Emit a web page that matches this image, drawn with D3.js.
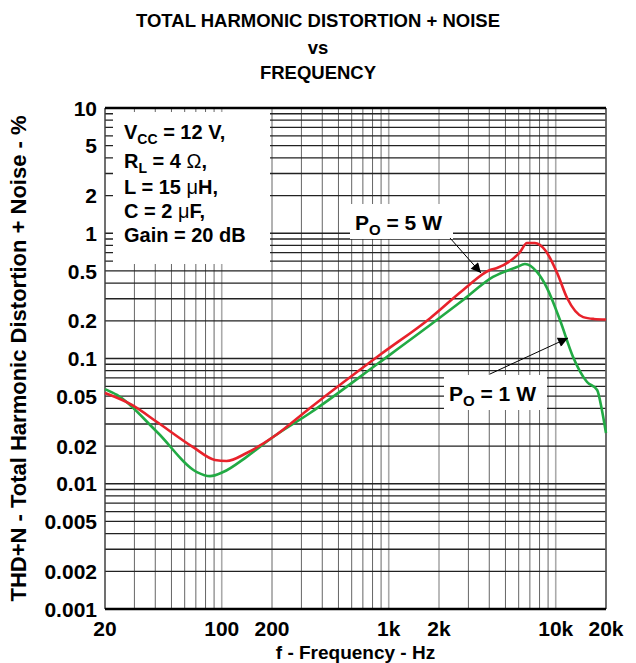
<!DOCTYPE html>
<html lang="en">
  <head>
    <meta charset="utf-8" />
    <title>THD+N vs Frequency</title>
    <style>
      body { margin: 0; background: #fff; }
      text { font-family: "Liberation Sans", Arial, sans-serif; font-weight: bold; }
    </style>
  </head>
  <body>
    <script src="https://d3js.org/d3.v7.min.js"></script>
    <div id="chart"></div>
    <script>
      // data (Hz, %)
      const freq5W = [20, 29, 41, 67, 91, 107, 141, 203, 338, 887, 1770, 2790, 4040, 4450, 6110, 6730, 7500, 8630, 10200, 11700, 14600, 16900, 20000];
      const thd5W = [0.053, 0.0426, 0.0311, 0.0197, 0.0155, 0.0152, 0.0176, 0.0236, 0.0403, 0.107, 0.21, 0.352, 0.509, 0.528, 0.708, 0.836, 0.836, 0.735, 0.482, 0.304, 0.214, 0.207, 0.205];

      const freq1W = [20, 23.6, 41, 71, 85, 102, 141, 203, 338, 887, 1770, 2790, 4210, 5860, 6540, 7720, 8870, 10600, 12700, 15400, 17700, 18900, 20000];
      const thd1W = [0.057, 0.0512, 0.0259, 0.0124, 0.0115, 0.0124, 0.0164, 0.0236, 0.0367, 0.0938, 0.185, 0.293, 0.448, 0.538, 0.568, 0.491, 0.365, 0.203, 0.103, 0.0649, 0.0561, 0.0388, 0.0254];

      const xTicks = [20, 100, 200, 1000, 2000, 10000, 20000];
      const xTickLabels = ["20", "100", "200", "1k", "2k", "10k", "20k"];
      const yTicks = [10, 5, 2, 1, 0.5, 0.2, 0.1, 0.05, 0.02, 0.01, 0.005, 0.002, 0.001];
      const yTickLabels = ["10", "5", "2", "1", "0.5", "0.2", "0.1", "0.05", "0.02", "0.01", "0.005", "0.002", "0.001"];

      const W = 636, H = 663;
      const margin = { top: 108, right: 30, bottom: 54, left: 105 };
      const width = W - margin.left - margin.right,
        height = H - margin.top - margin.bottom;

      const svg = d3.select("#chart").append("svg")
        .attr("width", W).attr("height", H);

      // titles
      const title = svg.append("g").attr("text-anchor", "middle").attr("font-size", 18.5);
      title.append("text").attr("x", 318).attr("y", 27).text("TOTAL HARMONIC DISTORTION + NOISE");
      title.append("text").attr("x", 318).attr("y", 54).text("vs");
      title.append("text").attr("x", 318).attr("y", 79).text("FREQUENCY");

      const g = svg.append("g").attr("transform", `translate(${margin.left},${margin.top})`);

      const x = d3.scaleLog().domain([20, 20000]).range([0, width]);
      const y = d3.scaleLog().domain([0.001, 10]).range([height, 0]);

      // grid: 1..9 per decade
      const xGrid = [];
      for (let d = 10; d <= 10000; d *= 10)
        for (let k = 1; k < 10; k++) if (d * k >= 20 && d * k <= 20000) xGrid.push(d * k);
      xGrid.push(20000);
      const yGrid = [];
      for (let d = 0.001; d < 10; d *= 10)
        for (let k = 1; k < 10; k++) yGrid.push(+(d * k).toPrecision(3));
      yGrid.push(10);

      const lightX = [100, 1000, 2000, 10000];

      g.append("g").selectAll("line").data(xGrid).join("line")
        .attr("x1", d => x(d)).attr("x2", d => x(d))
        .attr("y1", 0).attr("y2", height)
        .attr("stroke", d => lightX.includes(d) ? "#aaa" : "#555")
        .attr("stroke-width", d => lightX.includes(d) ? 1.6 : 0.9);

      g.append("g").selectAll("line").data(yGrid).join("line")
        .attr("x1", 0).attr("x2", width)
        .attr("y1", d => y(d)).attr("y2", d => y(d))
        .attr("stroke", "#222").attr("stroke-width", 1.3);

      // border
      g.append("line").attr("x1", 0).attr("x2", 0).attr("y1", 0).attr("y2", height)
        .attr("stroke", "#444").attr("stroke-width", 1.2);
      g.append("line").attr("x1", width).attr("x2", width).attr("y1", 0).attr("y2", height)
        .attr("stroke", "#666").attr("stroke-width", 1.5);
      g.append("line").attr("x1", 0).attr("x2", width).attr("y1", 0).attr("y2", 0)
        .attr("stroke", "#000").attr("stroke-width", 2.5);
      g.append("line").attr("x1", 0).attr("x2", width).attr("y1", height).attr("y2", height)
        .attr("stroke", "#000").attr("stroke-width", 2.5);

      // axes labels
      g.append("g").attr("text-anchor", "end").attr("font-size", 21)
        .selectAll("text").data(yTicks).join("text")
        .attr("x", -8).attr("y", d => y(d)).attr("dy", "0.36em")
        .text((d, i) => yTickLabels[i]);

      g.append("g").attr("text-anchor", "middle").attr("font-size", 21)
        .selectAll("text").data(xTicks).join("text")
        .attr("x", d => x(d)).attr("y", height + 27)
        .text((d, i) => xTickLabels[i]);

      svg.append("text").attr("text-anchor", "middle").attr("font-size", 19)
        .attr("x", margin.left + width / 2).attr("y", 659)
        .text("f - Frequency - Hz");

      svg.append("text").attr("text-anchor", "middle").attr("font-size", 22)
        .attr("transform", `translate(26,${margin.top + height / 2}) rotate(-90)`)
        .text("THD+N - Total Harmonic Distortion + Noise - %");

      // conditions box
      g.append("rect").attr("x", 8).attr("y", 4).attr("width", 157).attr("height", 152).attr("fill", "#fff");
      const cond = g.append("g").attr("font-size", 20);
      const addLine = (yy, parts) => {
        const t = cond.append("text").attr("x", 19).attr("y", yy);
        parts.forEach(p => {
          const s = t.append("tspan").text(p.t);
          if (p.sub) s.attr("font-size", 14).attr("dy", 5);
          if (p.up) s.attr("dy", -5);
          if (p.sym) s.attr("font-weight", "normal");
        });
      };
      addLine(31, [{ t: "V" }, { t: "CC", sub: true }, { t: " = 12 V,", up: true }]);
      addLine(60, [{ t: "R" }, { t: "L", sub: true }, { t: " = 4 ", up: true }, { t: "\u03A9", sym: true }, { t: "," }]);
      addLine(86, [{ t: "L = 15 " }, { t: "\u03BC", sym: true }, { t: "H," }]);
      addLine(110, [{ t: "C = 2 " }, { t: "\u03BC", sym: true }, { t: "F," }]);
      addLine(134, [{ t: "Gain = 20 dB" }]);

      // curves
      const line = d3.line().x(d => x(d[0])).y(d => y(d[1])).curve(d3.curveMonotoneX);
      g.append("path").datum(freq1W.map((f, i) => [f, thd1W[i]]))
        .attr("fill", "none").attr("stroke", "#22aa44").attr("stroke-width", 2.6)
        .attr("d", line);
      g.append("path").datum(freq5W.map((f, i) => [f, thd5W[i]]))
        .attr("fill", "none").attr("stroke", "#e8222b").attr("stroke-width", 2.6)
        .attr("d", line);

      // callouts
      svg.append("defs").append("marker").attr("id", "arr")
        .attr("viewBox", "0 0 10 10").attr("refX", 10).attr("refY", 5)
        .attr("markerWidth", 14).attr("markerHeight", 10).attr("markerUnits", "userSpaceOnUse")
        .attr("orient", "auto")
        .append("path").attr("d", "M0,0 L10,5 L0,10 Z").attr("fill", "#000");

      const callout = (bx, by, bw, bh, tx, ty, parts, ax1, ay1, ax2, ay2) => {
        svg.append("rect").attr("x", bx).attr("y", by).attr("width", bw).attr("height", bh).attr("fill", "#fff");
        const t = svg.append("text").attr("x", tx).attr("y", ty).attr("font-size", 21);
        t.append("tspan").text(parts[0]);
        t.append("tspan").attr("font-size", 15).attr("dy", 5).text(parts[1]);
        t.append("tspan").attr("dy", -5).text(parts[2]);
        svg.append("line").attr("x1", ax1).attr("y1", ay1).attr("x2", ax2).attr("y2", ay2)
          .attr("stroke", "#000").attr("stroke-width", 1).attr("marker-end", "url(#arr)");
      };
      callout(350, 204, 103, 35, 355, 230, ["P", "O", " = 5 W"], 450, 238, 481, 273);
      callout(444, 375, 103, 35, 449, 401, ["P", "O", " = 1 W"], 490, 374, 568, 338);
    </script>
  </body>
</html>
